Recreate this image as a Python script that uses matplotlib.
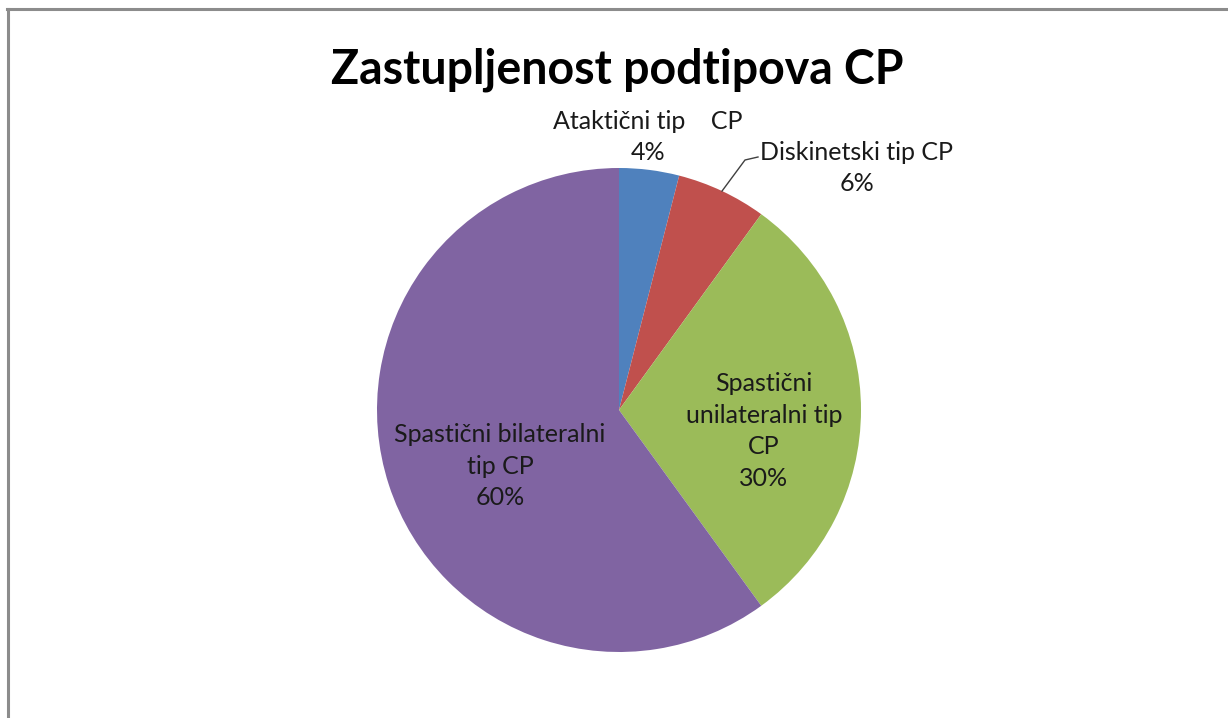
import numpy as np
import matplotlib

matplotlib.use("Agg")
import matplotlib.pyplot as plt  # noqa: E402
from matplotlib.lines import Line2D  # noqa: E402

plt.rcParams["font.family"] = ["Lato", "DejaVu Sans"]

title = "Zastupljenost podtipova CP"
categories = [
    "Ataktični tip    CP",
    "Diskinetski tip CP",
    "Spastični\nunilateralni tip\nCP",
    "Spastični bilateralni\ntip CP",
]
shares = [4, 6, 30, 60]
colors = ["#4F81BD", "#C0504D", "#9BBB59", "#8064A2"]

W, H = 1228, 718
fig = plt.figure(figsize=(W / 100, H / 100), dpi=100)
ax = fig.add_axes([0, 0, 1, 1])

# pie in pixel-like data coords (y up)
cx, cy, r = 619, H - 410, 242
wedges, _ = ax.pie(
    shares, colors=colors, startangle=90, counterclock=False,
    center=(cx, cy), radius=r, frame=True,
)
ax.set_xlim(0, W)
ax.set_ylim(0, H)
ax.set_aspect("auto")
ax.axis("off")

fs = 18
tc = "#1a1a1a"
ls = 1.45
labels = [f"{c}\n{s}%" for c, s in zip(categories, shares)]
# label anchors (pixel positions in the reference, y flipped)
ax.text(648, H - 137, labels[0], ha="center", va="center", fontsize=fs,
        color=tc, linespacing=ls)
ax.text(857, H - 168, labels[1], ha="center", va="center", fontsize=fs,
        color=tc, linespacing=ls)
ax.text(764, H - 431, labels[2], ha="center", va="center", fontsize=fs,
        color=tc, linespacing=ls)
ax.text(500, H - 466, labels[3], ha="center", va="center", fontsize=fs,
        color=tc, linespacing=ls)

# leader line for the small red slice
w = wedges[1]
mid = np.deg2rad((w.theta1 + w.theta2) / 2)
px, py = cx + r * np.cos(mid), cy + r * np.sin(mid)
ax.plot([px, 745, 758], [py, H - 160, H - 157], color="#404040", lw=1)

ax.text(617, H - 70, title, ha="center", va="center", fontsize=33.5,
        fontweight="bold", color="black")

# chart frame (only top and left edges visible in the crop)
fig.add_artist(Line2D([7.5 / W, 7.5 / W], [0, 1 - 8.5 / H], color="#8c8c8c",
                      lw=2.2, transform=fig.transFigure))
fig.add_artist(Line2D([6.5 / W, 1], [1 - 9 / H, 1 - 9 / H], color="#8c8c8c",
                      lw=2.2, transform=fig.transFigure))

fig.savefig("out.png", dpi=100)
